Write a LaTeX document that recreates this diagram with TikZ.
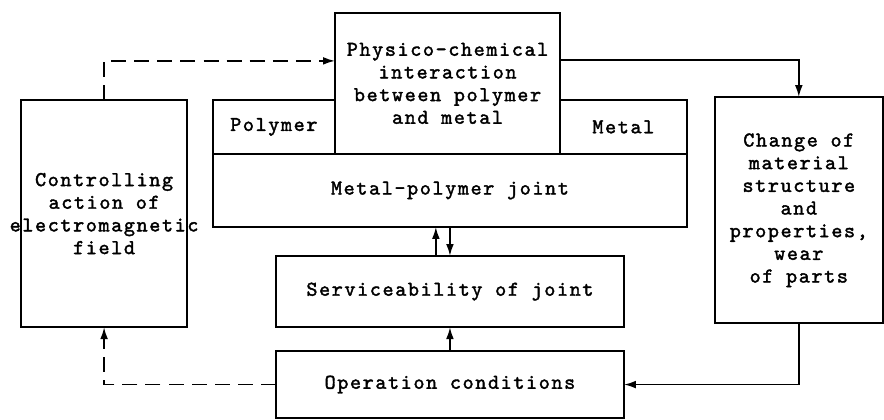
\documentclass[tikz,border=0pt]{standalone}
\usepackage{fontspec}
\usetikzlibrary{shapes,arrows.meta}
\newfontfamily\typewriter{lmmono10-regular.otf}[LetterSpace=7.7,FakeBold=1.8]
\tikzset{auto,>={Latex[length=0.4cm,width=0.26cm]}, font=\typewriter\fontsize{20}{21.5}\selectfont}
\tikzstyle{block} = [draw, rectangle, align=center, inner sep=0pt, outer sep=0pt]
\tikzstyle{feedback} = [dash pattern=on 0.5cm off 0.27cm]

\begin{document}
\begin{tikzpicture}[line width=1.7pt]
		\useasboundingbox (0,0) rectangle (29.47,-13.97);
		\node [block, minimum width=5.53cm, minimum height=7.57cm] (control) at (3.47,-7.12) {Controlling\\action of\\\makebox[0pt]{electromagnetic}\\field};
		\node [block, minimum width=7.5cm, minimum height=4.7cm] (interaction) at (14.92,-2.78) {Physico-chemical\\interaction\\between polymer\\and metal};
		\node [block, minimum width=4.07cm, minimum height=1.8cm] (polymer) at (9.13,-4.23) {Polymer};
		\node [block, minimum width=4.23cm, minimum height=1.8cm] (metal) at (20.78,-4.23) {Metal};
		\node [block, minimum width=15.8cm, minimum height=2.43cm] (joint) at (15,-6.35) {Metal-polymer joint};
		\node [block, minimum width=5.6cm, minimum height=7.53cm] (change) at (26.63,-7) {\raisebox{0.23cm}{\begin{tabular}{@{}c@{}}Change of\\material\\structure\\and\\properties,\\wear\\of parts\end{tabular}}};
		\node [block, minimum width=11.6cm, minimum height=2.37cm] (service) at (15,-9.72) {Serviceability of joint};
		\node [block, minimum width=11.6cm, minimum height=2.23cm] (conditions) at (15,-12.82) {Operation conditions};

		\draw [->, feedback] (control.north) |- ([yshift=0.75cm]interaction.west);
		\draw [->] ([yshift=0.78cm]interaction.east) -| (change.north);
		\draw [->] (change.south) |- (conditions.east);
		\draw [->, feedback] (conditions.west) -| (control.south);
		\draw [->] (conditions) -- (service);
		\draw [->] ([xshift=-0.47cm]service.north) -- ([xshift=-0.47cm]joint.south);
		\draw [->] (joint) -- (service);
	\end{tikzpicture}
\end{document}
